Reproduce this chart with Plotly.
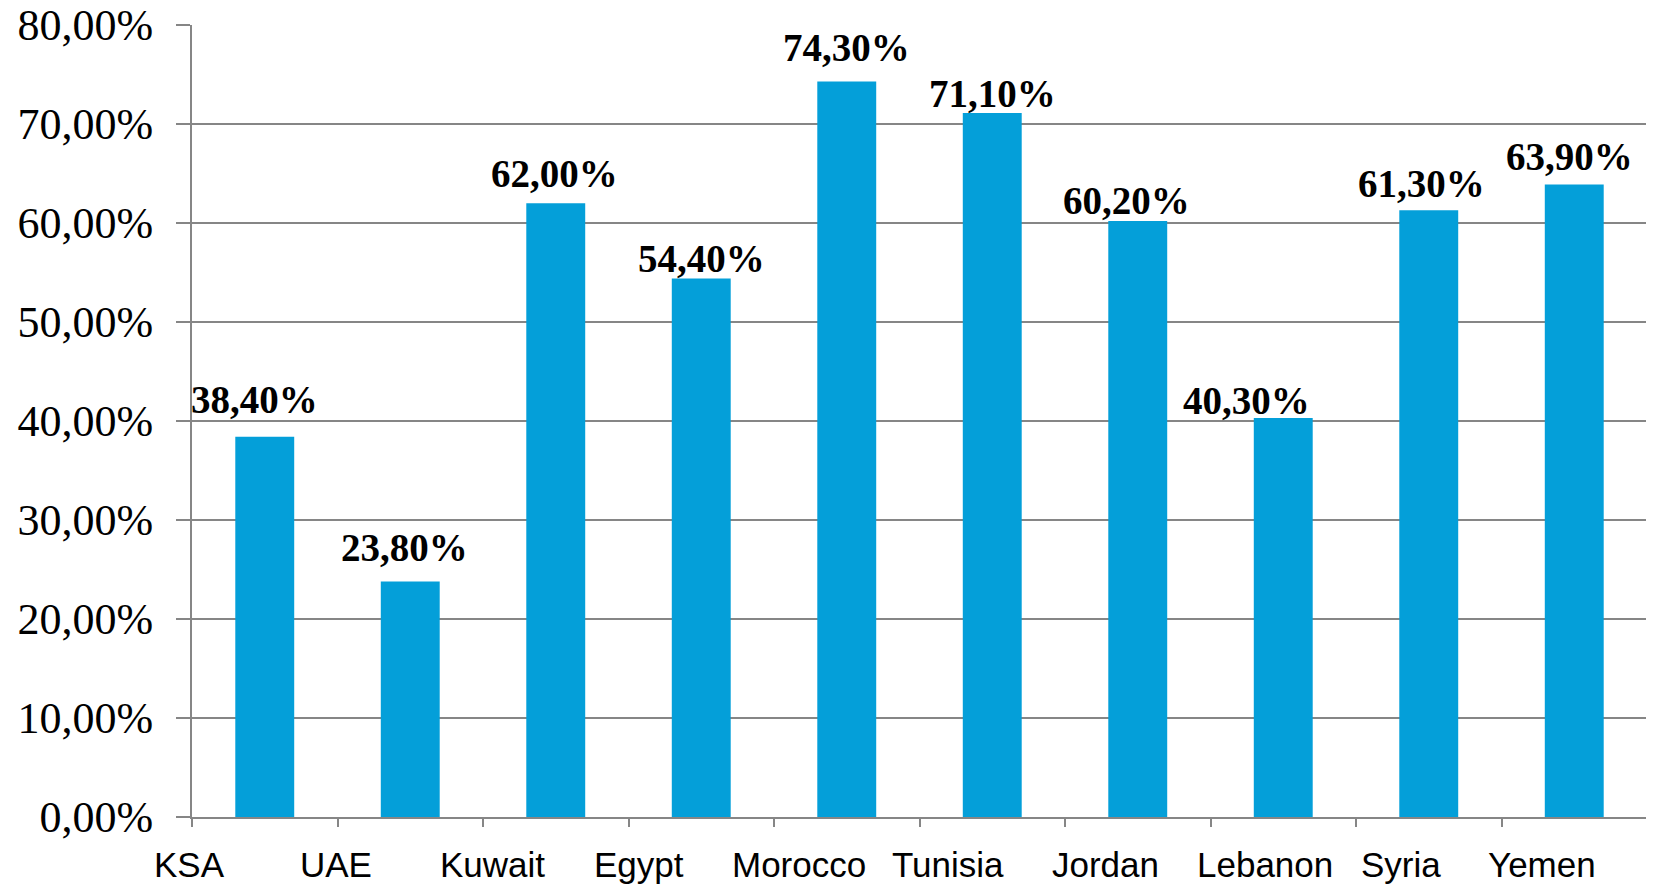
import plotly.graph_objects as go

categories = ["KSA", "UAE", "Kuwait", "Egypt", "Morocco", "Tunisia", "Jordan", "Lebanon", "Syria", "Yemen"]
values = [38.4, 23.8, 62.0, 54.4, 74.3, 71.1, 60.2, 40.3, 61.3, 63.9]
y_tick_vals = [0, 10, 20, 30, 40, 50, 60, 70, 80]
y_tick_text = ["0,00%", "10,00%", "20,00%", "30,00%", "40,00%", "50,00%", "60,00%", "70,00%", "80,00%"]

# style: pixel shifts of category labels relative to bar centre
label_shifts = [-75, -74, -63, -62, -48, -44, -32, -18, -28, -32]
# style: pixel shifts of value labels (x, y)
value_xshifts = [-10, -6, -1, 0, 0, 0, -11, -37, -7, -5]
value_yshifts = [14, 10, 6, -4, 10, -4, -3, -6, 3, 4]

BAR_COLOR = "#049FD9"
GRID = "#868686"

fig = go.Figure()
fig.add_trace(go.Bar(
    x=categories, y=values,
    marker=dict(color=BAR_COLOR, line=dict(width=0)),
    width=0.405,
    hoverinfo="skip",
))

annotations = []
for i, (c, v) in enumerate(zip(categories, values)):
    annotations.append(dict(
        x=c, y=v, xref="x", yref="y",
        text=f"{v:.2f}".replace(".", ",") + "%",
        showarrow=False, yanchor="bottom", xanchor="center",
        xshift=value_xshifts[i], yshift=value_yshifts[i],
        font=dict(family="Liberation Serif", size=39, color="black", weight="bold"),
    ))
    annotations.append(dict(
        x=c, y=0, xref="x", yref="paper",
        text=c, showarrow=False, yanchor="middle", xanchor="center",
        xshift=label_shifts[i], yshift=-47,
        font=dict(family="Liberation Sans", size=35, color="black"),
    ))

fig.update_layout(
    width=1646, height=880,
    margin=dict(l=184, r=7, t=17, b=71, autoexpand=False),
    plot_bgcolor="white", paper_bgcolor="white",
    showlegend=False,
    annotations=annotations,
)
fig.update_xaxes(
    type="category",
    range=[-0.5, 9.5],
    showticklabels=False,
    tickson="boundaries",
    ticks="outside", ticklen=8, tickwidth=2, tickcolor=GRID,
    showline=True, linecolor=GRID, linewidth=2,
    showgrid=False, zeroline=False,
    automargin=False,
)
fig.update_yaxes(
    range=[0, 80],
    tickvals=y_tick_vals, ticktext=y_tick_text,
    ticks="outside", ticklen=14, tickwidth=2, tickcolor=GRID,
    ticklabelstandoff=14,
    ticklabeloverflow="allow",
    showline=True, linecolor=GRID, linewidth=2,
    showgrid=True, gridcolor=GRID, gridwidth=2,
    zeroline=False,
    automargin=False,
    tickfont=dict(family="Liberation Serif", size=44, color="black"),
)

fig.write_html("out.html")
